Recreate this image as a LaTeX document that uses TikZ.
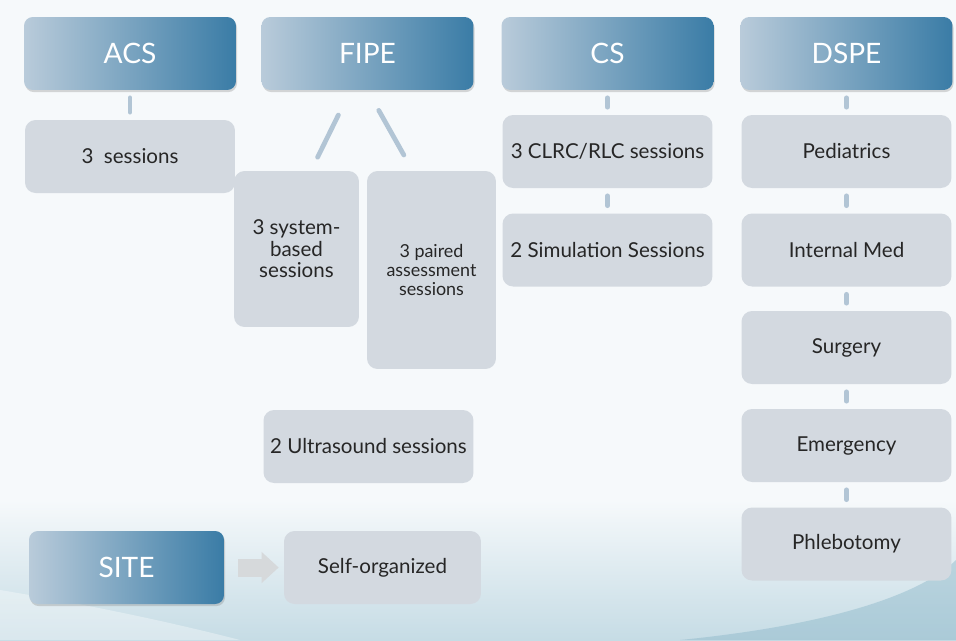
\documentclass[tikz,border=0pt]{standalone}
\usepackage{fontspec}
\setmainfont{Lato}
\usetikzlibrary{calc,shadows,arrows.meta}
\definecolor{hdlight}{HTML}{B9CBDA}
\definecolor{hdmid}{HTML}{6F9BBB}
\definecolor{hddark}{HTML}{3A7CA6}
\definecolor{boxfill}{HTML}{D3D9E0}
\definecolor{connfill}{HTML}{B2C5D5}
\definecolor{bgtop}{HTML}{F6F9FB}
\definecolor{bgbot}{HTML}{C6DCE5}
\definecolor{swoosh}{HTML}{8AB6C8}
\definecolor{arrowfill}{HTML}{D6D9DB}

\begin{document}
\begin{tikzpicture}[x=0.02cm,y=-0.02cm,
    header/.style={rounded corners=5pt, left color=hdlight, middle color=hdmid, right color=hddark,
        minimum width=4.24cm, minimum height=1.46cm, text=white, font=\fontsize{16}{18}\selectfont,
        drop shadow={opacity=0.3,shadow xshift=0.6pt,shadow yshift=-1.2pt}},
    item/.style={rounded corners=6pt, fill=boxfill, minimum width=4.2cm, minimum height=1.46cm,
        text=black!85, font=\fontsize{11.7}{12.2}\selectfont, align=center},
    conn/.style={draw=connfill, line width=2.7pt, line cap=round, shorten <=0.15cm, shorten >=0.15cm}]
    % background
    \fill[bgtop] (0,0) rectangle (956,640);
    \shade[top color=bgtop, bottom color=bgbot] (0,500) rectangle (956,640);
    \fill[white, opacity=0.35] (0,590) .. controls (90,605) and (170,622) .. (240,640) -- (0,640) -- cycle;
    \fill[swoosh, opacity=0.45] (680,640) .. controls (830,625) and (920,595) .. (956,560) -- (956,640) -- cycle;
    % headers
    \node[header] (acs) at (130,53.5) {ACS};
    \node[header] (fipe) at (367.5,53.5) {FIPE};
    \node[header] (cs) at (607.5,53.5) {CS};
    \node[header] (dspe) at (846.5,53.5) {DSPE};
    \node[header, minimum width=3.9cm] (site) at (126.5,567.5) {SITE};
    % ACS
    \node[item] (ses) at (130,156.5) {3~ sessions};
    \draw[conn] (acs) -- (ses);
    % FIPE
    \node[item, minimum width=2.5cm, minimum height=3.12cm] (sys) at (296.5,249) {3 system-\\based\\sessions};
    \node[item, minimum width=2.58cm, minimum height=3.96cm, font=\fontsize{10.2}{10.6}\selectfont] (pair) at (431.5,270) {3 paired\\assessment\\sessions};
    \node[item] (ultra) at (368.5,446.5) {2 Ultrasound sessions};
    \draw[conn, shorten <=0.55cm, shorten >=0.3cm] ($(fipe.south west)!0.42!(fipe.south east)$) -- ($(sys.north)+(14.5,0)$);
    \draw[conn, shorten <=0.46cm, shorten >=0.36cm] (fipe.south) -- ($(pair.north west)+(46,0)$);
    % CS
    \node[item] (clrc) at (607.5,151.5) {3 CLRC/RLC sessions};
    \node[item] (sim) at (607.5,250) {2 Simulation Sessions};
    \draw[conn] (cs) -- (clrc);
    \draw[conn] (clrc) -- (sim);
    % DSPE
    \node[item] (ped) at (846.5,151.5) {Pediatrics};
    \node[item] (intm) at (846.5,250) {Internal Med};
    \node[item] (surg) at (846.5,347.5) {Surgery};
    \node[item] (emer) at (846.5,445.5) {Emergency};
    \node[item] (phle) at (846.5,544) {Phlebotomy};
    \draw[conn] (dspe) -- (ped);
    \draw[conn] (ped) -- (intm);
    \draw[conn] (intm) -- (surg);
    \draw[conn] (surg) -- (emer);
    \draw[conn] (emer) -- (phle);
    % SITE
    \node[item, minimum width=3.94cm] (self) at (382.5,567.5) {Self-organized};
    \draw[draw=arrowfill, line width=0.36cm, -{Triangle[length=0.34cm,width=0.6cm]},
        shorten <=0.28cm, shorten >=0.1cm] (site) -- (self);
\end{tikzpicture}
\end{document}
